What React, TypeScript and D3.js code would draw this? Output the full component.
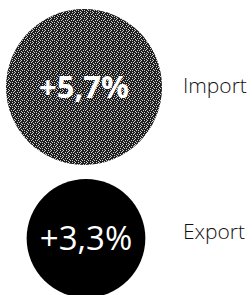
import React from "react";
import * as d3 from "d3";

const categories = ["Import", "Export"];
const changes = [5.7, 3.3];
const valueLabels = ["+5,7%", "+3,3%"];

const W = 252;
const H = 295;

// halftone tile for the grey circle
const dither = [
  "100100",
  "001000",
  "010001",
  "000100",
  "100010",
  "001000",
];

const App = () => {
  const r = d3.scaleSqrt().domain([0, d3.max(changes) as number]).range([0, 78]);

  // circles stacked from the top with a small gap
  const centers: number[] = [];
  let y = 9;
  changes.forEach((v) => {
    const rad = r(v);
    centers.push(y + rad);
    y += 2 * rad + 14;
  });

  const labelY = d3.scalePoint().domain(categories).range([85, 231]);
  const cx = [84, 86];

  return (
    <svg width={W} height={H} style={{ position: "absolute", left: 0, top: 0 }}>
      <defs>
        <pattern id="dots" width={6} height={6} patternUnits="userSpaceOnUse">
          <rect width={6} height={6} fill="#1e1e1e" />
          {dither.map((row, j) =>
            row.split("").map((c, i) =>
              c === "1" ? <rect key={`${i}-${j}`} x={i} y={j} width={1} height={1} fill="#cfcfcf" /> : null
            )
          )}
        </pattern>
      </defs>
      {categories.map((cat, i) => (
        <g key={cat}>
          <circle cx={cx[i]} cy={centers[i]} r={r(changes[i])} fill={i === 0 ? "url(#dots)" : "#000"} />
          <text
            x={cx[i]}
            y={centers[i]}
            dy="0.36em"
            textAnchor="middle"
            fill="#fff"
            fontFamily="'Open Sans', sans-serif"
            fontWeight={i === 0 ? 700 : 500}
            fontSize={i === 0 ? 31 : 33}
          >
            {valueLabels[i]}
          </text>
          <text
            x={183}
            y={labelY(cat)}
            dy="0.36em"
            fill="#111"
            fontFamily="'Open Sans', sans-serif"
            fontWeight={300}
            fontSize={21}
          >
            {cat}
          </text>
        </g>
      ))}
    </svg>
  );
};

export default App;
